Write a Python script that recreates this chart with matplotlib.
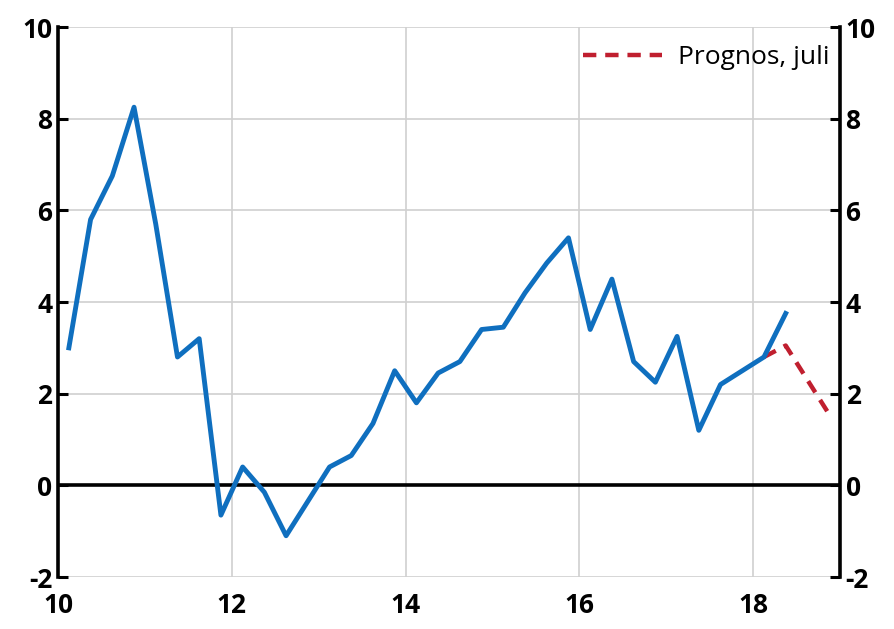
import matplotlib
matplotlib.use("Agg")
import matplotlib.pyplot as plt
import numpy as np

# Quarterly data 2010Q1 - 2018Q2 (x plotted at mid-quarter)
start_year = 10
actual = [3.0, 5.8, 6.75, 8.25,
          5.7, 2.8, 3.2, -0.65,
          0.4, -0.15, -1.1, -0.35,
          0.4, 0.65, 1.35, 2.5,
          1.8, 2.45, 2.7, 3.4,
          3.45, 4.2, 4.85, 5.4,
          3.4, 4.5, 2.7, 2.25,
          3.25, 1.2, 2.2, 2.5,
          2.8, 3.75]
# Forecast 2018Q1 - 2018Q4
forecast_start = 18
forecast = [2.8, 3.05, 2.3, 1.55]
forecast_label = "Prognos, juli"
xticks = [10, 12, 14, 16, 18]
yticks = [-2, 0, 2, 4, 6, 8, 10]

x_act = start_year + (np.arange(len(actual)) + 0.5) / 4
x_fc = forecast_start + (np.arange(len(forecast)) + 0.5) / 4

plt.rcParams['font.family'] = ['Open Sans', 'DejaVu Sans']

fig = plt.figure(figsize=(8.94, 6.29), dpi=100)
ax = fig.add_axes([58/894, (629-577)/629, (840-58)/894, (577-27)/629])

ax.set_xlim(10, 19)
ax.set_ylim(-2, 10)

ax.grid(True, color='#d0d0d0', lw=1.2, zorder=0)
ax.set_axisbelow(True)
ax.axhline(0, color='black', lw=2.6, zorder=2)

ax.plot(x_fc, forecast, color='#C01F2F', lw=3.2, linestyle=(0, (3, 2)),
        label=forecast_label, zorder=3)
ax.plot(x_act, actual, color='#0F6FBF', lw=3.5, zorder=4)

ax.set_xticks(xticks)
ax.set_xticklabels([str(t) for t in xticks], fontsize=19, fontweight='bold')
ax.set_yticks(yticks)
ax.set_yticklabels([str(t) for t in yticks], fontsize=19, fontweight='bold')

ax.tick_params(axis='x', length=0, pad=11)
ax.tick_params(axis='y', direction='in', length=7, width=2.2, right=True,
               labelright=True, left=True, labelleft=True, pad=4)

for s in ['top', 'bottom']:
    ax.spines[s].set_visible(False)
for s in ['left', 'right']:
    ax.spines[s].set_color('black')
    ax.spines[s].set_linewidth(2.6)

leg = ax.legend(loc='upper right', frameon=False, fontsize=19,
                handlelength=3.0, handletextpad=0.6,
                borderaxespad=0.0, borderpad=0.1,
                bbox_to_anchor=(0.99, 0.972))

fig.savefig('out.png', dpi=100)
